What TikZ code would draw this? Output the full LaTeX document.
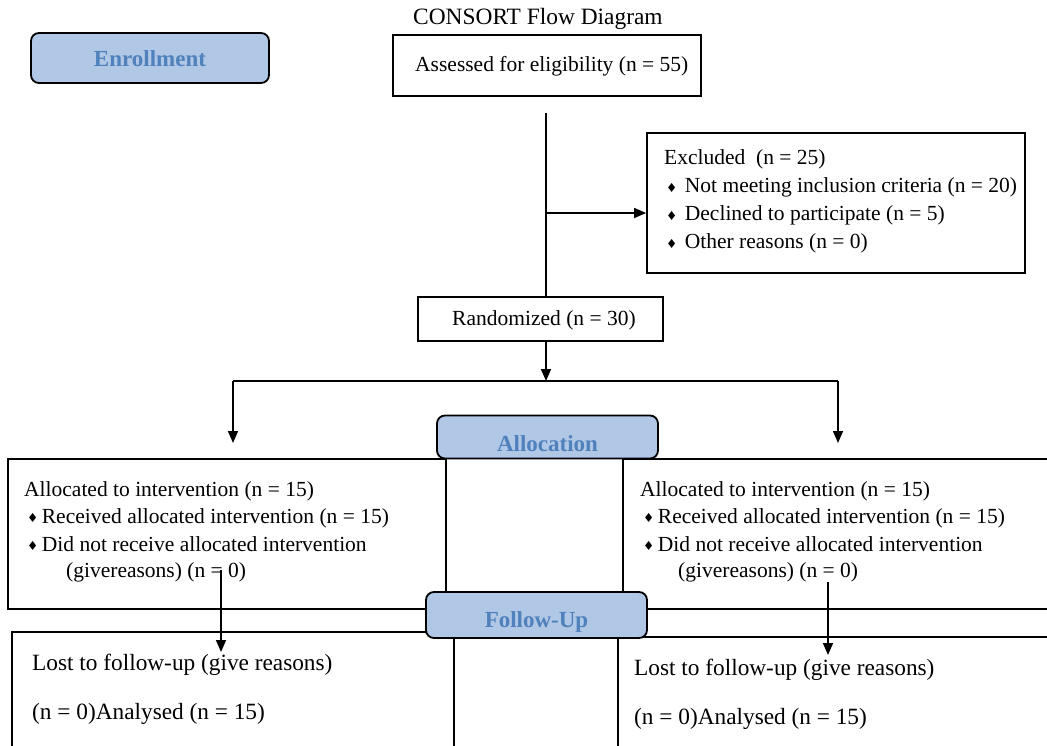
\documentclass[tikz,border=0pt]{standalone}
\usepackage{fontspec}
\setmainfont{Liberation Serif}
\newfontfamily\dvs{DejaVu Sans}
\usetikzlibrary{arrows.meta}
\definecolor{hdrfill}{HTML}{B0C7E6}
\definecolor{hdrtext}{HTML}{4F81BD}
\newcommand\dmd{{\dvs\fontsize{12.5}{12.5}\selectfont\raisebox{0.5pt}{♦}}}
\begin{document}
\begin{tikzpicture}[x=1pt,y=-1pt,
  box/.style={draw, line width=1.8pt, inner sep=0pt},
  hdr/.style={draw, line width=1.8pt, rounded corners=8pt, fill=hdrfill, inner sep=0pt,
    text depth=0pt, font=\fontsize{23}{23}\selectfont\bfseries, text=hdrtext},
  txt/.style={anchor=base west, inner sep=0pt, font=\fontsize{21.5}{26}\selectfont},
  txtb/.style={anchor=base west, inner sep=0pt, font=\fontsize{23.3}{28}\selectfont},
  arr/.style={-{Triangle[length=12pt,width=10pt]}, line width=1.6pt},
  ln/.style={line width=1.6pt}]
\clip (0,0) rectangle (1047,746);
\fill[white] (0,0) rectangle (1047,746);

% boxes
\node[box, minimum width=308pt, minimum height=61pt] (assessed) at (547,65.5) {};
\node[box, minimum width=378pt, minimum height=140pt] (excl) at (836,203) {};
\node[box, minimum width=245pt, minimum height=44pt] (rand) at (540.5,319) {};
\node[box, minimum width=438pt, minimum height=150pt] (allocL) at (227,534) {};
\node[box, minimum width=437pt, minimum height=150pt] (allocR) at (841.5,534) {};
\node[box, minimum width=442pt, minimum height=128pt] (fuL) at (233,696) {};
\node[box, minimum width=442pt, minimum height=123pt] (fuR) at (839,698.5) {};

% header boxes
\node[hdr, text height=18pt, minimum width=238pt, minimum height=50pt] (enroll) at (150,58) {Enrollment};
\node[hdr, text height=28pt, minimum width=221pt, minimum height=43pt] (allochdr) at (547.5,437) {Allocation};
\node[hdr, text height=24pt, minimum width=221pt, minimum height=46pt] (fuhdr) at (536.5,615) {Follow-Up};

% texts
\node[txt, font=\fontsize{23.4}{26}\selectfont] (title) at (413,25) {CONSORT Flow Diagram};
\node[txt] (tass) at (415,72) {Assessed for eligibility (n = 55)};
\node[txt] (ex1) at (664,165) {Excluded\ \ (n = 25)};
\node[txt] (ex2) at (666,193) {\dmd\hspace{7.5pt}Not meeting inclusion criteria (n = 20)};
\node[txt] (ex3) at (666,221) {\dmd\hspace{7.5pt}Declined to participate (n = 5)};
\node[txt] (ex4) at (666,249) {\dmd\hspace{7.5pt}Other reasons (n = 0)};
\node[txt] (trand) at (452,325) {Randomized (n = 30)};

\node[txt] (l1) at (24,496) {Allocated to intervention (n = 15)};
\node[txt] (l2) at (27,523) {\dmd\hspace{3.5pt}Received allocated intervention (n = 15)};
\node[txt] (l3) at (27,551) {\dmd\hspace{3.5pt}Did not receive allocated intervention};
\node[txt] (l4) at (66,577) {(givereasons) (n = 0)};

\node[txt] (r1) at (640,496) {Allocated to intervention (n = 15)};
\node[txt] (r2) at (643,523) {\dmd\hspace{3.5pt}Received allocated intervention (n = 15)};
\node[txt] (r3) at (643,551) {\dmd\hspace{3.5pt}Did not receive allocated intervention};
\node[txt] (r4) at (678,577) {(givereasons) (n = 0)};

\node[txtb] (b1) at (32,670) {Lost to follow-up (give reasons)};
\node[txtb] (b2) at (32,719) {(n = 0)Analysed (n = 15)};
\node[txtb] (b3) at (634,675) {Lost to follow-up (give reasons)};
\node[txtb] (b4) at (634,724) {(n = 0)Analysed (n = 15)};

% connectors
\coordinate (top) at (546,113);
\coordinate (split) at (546,213);
\coordinate (bar) at (546,381);
\coordinate (bl) at (233,381);
\coordinate (br) at (838,381);
\coordinate (blend) at (233,443);
\coordinate (brend) at (838,443);
\coordinate (lstart) at (221,570);
\coordinate (lend) at (221,652);
\coordinate (rstart) at (828,582);
\coordinate (rend) at (828,655);

\draw[ln] (top) -- (top |- rand.north);
\draw[arr] (split) -- (split -| excl.west);
\draw[arr] (rand.south -| bar) -- (bar);
\draw[ln] (bl) -- (br);
\draw[arr] (bl) -- (blend);
\draw[arr] (br) -- (brend);
\draw[arr] (lstart) -- (lend);
\draw[arr] (rstart) -- (rend);
\end{tikzpicture}
\end{document}
